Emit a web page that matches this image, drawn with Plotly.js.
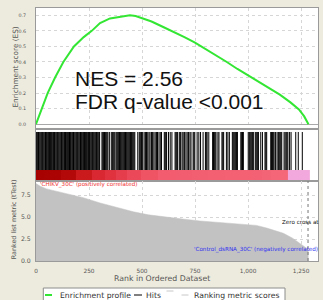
<!DOCTYPE html>
<html>
<head>
<meta charset="utf-8">
<script src="https://cdn.plot.ly/plotly-3.0.1.min.js"></script>
<style>
html,body{margin:0;padding:0;background:#EDEBDD;}
#chart{width:323px;height:300px;}
</style>
</head>
<body>
<div id="chart"></div>
<script>
// Enrichment profile (running ES)
const esRanks  = [0, 27, 55, 90, 129, 179, 225, 263, 302, 349, 400, 443, 470, 500, 545, 600, 650, 700, 750, 800, 850, 900, 950, 1000, 1050, 1100, 1150, 1200, 1240, 1265, 1285];
const esValues = [0, 0.10, 0.20, 0.30, 0.40, 0.50, 0.56, 0.60, 0.65, 0.68, 0.69, 0.70, 0.695, 0.68, 0.66, 0.625, 0.595, 0.56, 0.525, 0.485, 0.445, 0.40, 0.355, 0.315, 0.275, 0.235, 0.19, 0.14, 0.095, 0.05, 0];

// Ranked list metric
const metricRanks  = [0, 20, 50, 82, 150, 223, 302, 349, 400, 459, 530, 616, 700, 774, 850, 931, 1000, 1040, 1088, 1130, 1167, 1210, 1245, 1270, 1285];
const metricValues = [8.8, 8.5, 8.2, 8.0, 7.6, 7.2, 6.6, 6.3, 5.95, 5.6, 5.25, 4.97, 4.75, 4.55, 4.42, 4.3, 4.18, 4.05, 3.75, 3.45, 3.15, 2.6, 2.0, 1.6, 1.3];

// Hit positions (rank of each gene-set member)
const hitRanks = [1,4,8,12,15,19,23,27,30,34,38,42,45,49,53,57,60,64,68,72,75,79,83,87,90,94,98,102,105,109,113,117,120,124,128,132,135,139,143,147,150,154,158,162,165,169,173,177,180,184,188,192,195,199,203,207,210,214,218,222,225,229,233,237,240,244,248,252,255,259,263,267,270,274,278,282,285,289,293,297,300,
311,315,319,323,327,331,335,339,346,355,360,364,368,372,378,
382,386,390,394,398,402,406,410,414,418,422,426,430,434,438,442,446,450,454,458,462,466,
480,487,491,495,498,503,510,516,521,527,533,538,545,550,556,562,568,573,580,586,592,
605,609,613,616,625,633,641,656,660,664,668,676,682,689,694,700,707,713,719,726,731,
741,745,749,760,768,776,788,799,803,807,815,833,837,841,845,849,858,863,877,881,885,898,905,912,
926,930,934,938,942,946,950,966,970,974,978,1001,1006,1010,1014,1018,1022,1025,1034,1038,1042,1046,1049,
1060,1068,1080,1084,1088,1107,1111,1115,1119,1123,1130,1137,1143,1147,1151,1155,1159,1170,1175,1180,1184,1188,1196,1203,1225,1237,1256];

const zeroCross = 1283;
const xTickVals = [0, 250, 500, 750, 1000, 1250];
const esTickVals = [0, 0.1, 0.2, 0.3, 0.4, 0.5, 0.6, 0.7];
const metricTickVals = [0, 2.5, 5, 7.5];

const posLabel = "'CHIKV_30C' (positively correlated)";
const negLabel = "'Control_dsRNA_30C' (negatively correlated)";
const zeroLabel = "Zero cross at";
const legendNames = ["Enrichment profile", "Hits", "Ranking metric scores"];

const FONT = "DejaVu Sans";
const X_RANGE = [0, 1330];

// hits as vertical segments
const hx = [], hy = [];
hitRanks.forEach(r => { hx.push(r, r, null); hy.push(0.216, 0.96, null); });

const traces = [
  { type: 'scatter', mode: 'lines', x: esRanks, y: esValues, xaxis: 'x', yaxis: 'y',
    line: { color: '#33E633', width: 2 }, name: legendNames[0], showlegend: false, hoverinfo: 'skip' },
  { type: 'heatmap', x: metricRanks, y: [0, 0.216], z: [metricValues], xaxis: 'x2', yaxis: 'y2',
    zmin: 1.3, zmax: 8.8, showscale: false, zsmooth: false, hoverinfo: 'skip',
    colorscale: [
      [0, '#F2A8DC'], [0.24, '#F2A8DC'], [0.245, '#F4687A'], [0.493, '#F25C6E'],
      [0.587, '#EA4656'], [0.693, '#DC2A36'], [0.8, '#C81818'], [0.853, '#AE0404'], [1, '#A40000']
    ] },
  { type: 'scatter', mode: 'lines', x: hx, y: hy, xaxis: 'x2', yaxis: 'y2',
    line: { color: '#000000', width: 1 }, name: legendNames[1], showlegend: false, hoverinfo: 'skip' },
  { type: 'scatter', mode: 'lines', x: metricRanks, y: metricValues, xaxis: 'x3', yaxis: 'y3',
    fill: 'tozeroy', fillcolor: '#C2C2C2', line: { color: '#C2C2C2', width: 0.5 },
    name: legendNames[2], showlegend: false, hoverinfo: 'skip' }
];

const px2x = p => (p - 36) / 282;
const py2y = p => (261 - p) / 253;

const gridCommon = { gridcolor: '#D6D6D6', griddash: 'dot', gridwidth: 1 };
const lineCommon = { showline: true, linecolor: '#9A9A9A', linewidth: 1, mirror: true };

const layout = {
  width: 323, height: 300,
  margin: { l: 36, r: 5, t: 8, b: 39 },
  paper_bgcolor: '#EDEBDD', plot_bgcolor: '#FFFFFF',
  font: { family: FONT, color: '#555555' },
  showlegend: false,
  xaxis: Object.assign({ anchor: 'y', domain: [0, 1], range: X_RANGE, tickvals: xTickVals,
    showticklabels: false, ticks: '', showgrid: true, zeroline: false }, gridCommon, lineCommon),
  yaxis: Object.assign({ anchor: 'x', domain: [0.526, 1], range: [-0.024, 0.747], tickvals: esTickVals,
    tickformat: '.1f', ticks: '', ticklabelstandoff: 8, tickfont: { size: 4.8, color: '#555' },
    showgrid: true, zeroline: true, zerolinecolor: '#A8A8A8', zerolinewidth: 1 }, gridCommon, lineCommon),
  xaxis2: Object.assign({ anchor: 'y2', domain: [0, 1], range: X_RANGE, showticklabels: false,
    ticks: '', showgrid: false, zeroline: false }, lineCommon),
  yaxis2: Object.assign({ anchor: 'x2', domain: [0.316, 0.518], range: [0, 1], showticklabels: false,
    ticks: '', showgrid: false, zeroline: false }, lineCommon),
  xaxis3: Object.assign({ anchor: 'y3', domain: [0, 1], range: X_RANGE, tickvals: xTickVals,
    tickformat: ',d', ticks: '', ticklabelstandoff: 4, tickfont: { size: 5.8, color: '#555' },
    showgrid: true, zeroline: false }, gridCommon, lineCommon),
  yaxis3: Object.assign({ anchor: 'x3', domain: [0, 0.316], range: [0, 9.09], tickvals: metricTickVals,
    tickformat: '.1f', ticks: '', ticklabelstandoff: 3, tickfont: { size: 6.2, color: '#555' },
    showgrid: true, zeroline: false, layer: 'above traces' }, gridCommon, lineCommon),
  shapes: [
    { type: 'line', xref: 'x3', yref: 'y3 domain', x0: zeroCross, x1: zeroCross, y0: 0, y1: 1,
      line: { color: '#777777', width: 1, dash: 'dot' } },
    // legend box
    { type: 'rect', xref: 'paper', yref: 'paper', x0: px2x(43.3), x1: px2x(285), y0: py2y(305), y1: py2y(288),
      fillcolor: '#FFFFFF', line: { color: '#8C8C8C', width: 1 } },
    { type: 'line', xref: 'paper', yref: 'paper', x0: px2x(45), x1: px2x(52), y0: py2y(295), y1: py2y(295),
      line: { color: '#33E633', width: 2 } },
    { type: 'line', xref: 'paper', yref: 'paper', x0: px2x(134), x1: px2x(142), y0: py2y(295), y1: py2y(295),
      line: { color: '#000000', width: 1 } },
    { type: 'line', xref: 'paper', yref: 'paper', x0: px2x(166.5), x1: px2x(173.5), y0: py2y(291), y1: py2y(291),
      line: { color: '#C8C8C8', width: 1 } },
    { type: 'line', xref: 'paper', yref: 'paper', x0: px2x(181.5), x1: px2x(188.5), y0: py2y(295), y1: py2y(295),
      line: { color: '#C8C8C8', width: 1 } }
  ],
  annotations: [
    { text: 'NES = 2.56', xref: 'paper', yref: 'paper', x: px2x(73), y: py2y(78.5), xanchor: 'left', yanchor: 'middle',
      showarrow: false, font: { family: 'Liberation Sans', size: 21, color: '#111' } },
    { text: 'FDR q-value <0.001', xref: 'paper', yref: 'paper', x: px2x(73), y: py2y(102), xanchor: 'left', yanchor: 'middle',
      showarrow: false, font: { family: 'Liberation Sans', size: 21, color: '#111' } },
    { text: 'Enrichment score (ES)', xref: 'paper', yref: 'paper', x: px2x(14.5), y: py2y(67), textangle: -90,
      xanchor: 'center', yanchor: 'middle', showarrow: false, font: { family: FONT, size: 7.3, color: '#555' } },
    { text: 'Ranked list metric (tTest)', xref: 'paper', yref: 'paper', x: px2x(14.3), y: py2y(219), textangle: -90,
      xanchor: 'center', yanchor: 'middle', showarrow: false, font: { family: FONT, size: 6.4, color: '#555' } },
    { text: 'Rank in Ordered Dataset', xref: 'paper', yref: 'paper', x: px2x(162), y: py2y(278), xanchor: 'center', yanchor: 'middle',
      showarrow: false, font: { family: FONT, size: 7.8, color: '#555' } },
    { text: posLabel, xref: 'paper', yref: 'paper', x: px2x(38), y: py2y(184.5), xanchor: 'left', yanchor: 'middle',
      showarrow: false, font: { family: FONT, size: 5.6, color: '#F03030' } },
    { text: negLabel, xref: 'paper', yref: 'paper', x: px2x(319.5), y: py2y(249), xanchor: 'right', yanchor: 'middle',
      showarrow: false, font: { family: FONT, size: 5.6, color: '#3030F0' } },
    { text: zeroLabel, xref: 'paper', yref: 'paper', x: px2x(320.5), y: py2y(221.5), xanchor: 'right', yanchor: 'middle',
      showarrow: false, font: { family: FONT, size: 5.6, color: '#111' } },
    // legend texts
    { text: legendNames[0], xref: 'paper', yref: 'paper', x: px2x(57.5), y: py2y(295), xanchor: 'left', yanchor: 'middle',
      showarrow: false, font: { family: FONT, size: 7.7, color: '#333' } },
    { text: legendNames[1], xref: 'paper', yref: 'paper', x: px2x(144), y: py2y(295), xanchor: 'left', yanchor: 'middle',
      showarrow: false, font: { family: FONT, size: 7.7, color: '#333' } },
    { text: legendNames[2], xref: 'paper', yref: 'paper', x: px2x(191.5), y: py2y(295), xanchor: 'left', yanchor: 'middle',
      showarrow: false, font: { family: FONT, size: 7.7, color: '#333' } }
  ]
};

Plotly.newPlot('chart', traces, layout, { staticPlot: true, displayModeBar: false });
</script>
</body>
</html>
